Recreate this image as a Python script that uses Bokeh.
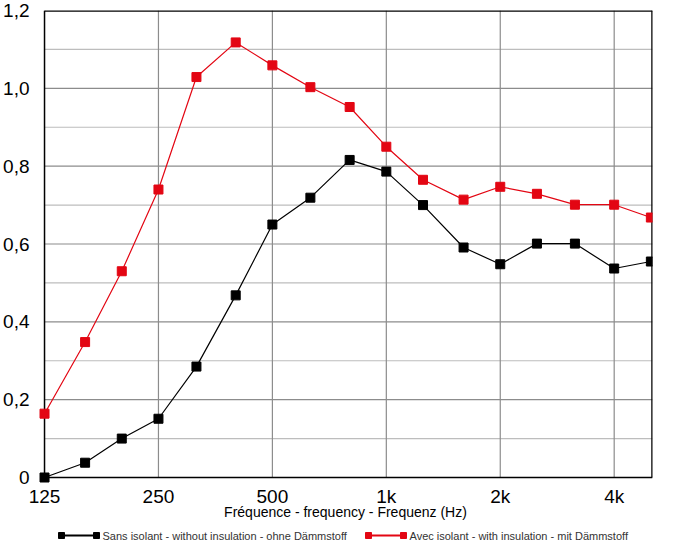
from bokeh.plotting import figure
from bokeh.layouts import column
from bokeh.models import FixedTicker, ColumnDataSource
from bokeh.core.properties import value
from bokeh.embed import file_html
from bokeh.resources import INLINE

# ---- data ----
freqs = [125, 160, 200, 250, 315, 400, 500, 630, 800, 1000, 1250, 1600, 2000, 2500, 3150, 4000, 5000]
without_insulation = [0.0, 0.038, 0.10, 0.151, 0.285, 0.468, 0.65, 0.719, 0.816, 0.786, 0.70, 0.591, 0.548,
                      0.601, 0.601, 0.537, 0.555]
with_insulation = [0.164, 0.348, 0.53, 0.74, 1.029, 1.118, 1.059, 1.003, 0.952, 0.85, 0.765, 0.714, 0.747,
                   0.729, 0.701, 0.701, 0.668]
x_ticks = [125, 250, 500, 1000, 2000, 4000]
x_tick_labels = ["125", "250", "500", "1k", "2k", "4k"]
y_ticks = [0, 0.2, 0.4, 0.6, 0.8, 1.0, 1.2]
y_tick_labels = ["0", "0,2", "0,4", "0,6", "0,8", "1,0", "1,2"]
y_minor = [0.1, 0.3, 0.5, 0.7, 0.9, 1.1]
x_label = "Fréquence - frequency - Frequenz (Hz)"
series_names = ["Sans isolant - without insulation - ohne Dämmstoff",
                "Avec isolant - with insulation - mit Dämmstoff"]

# ---- layout constants ----
X_MIN, X_MAX = 125, 5050
Y_MIN, Y_MAX = 0.0, 1.2
X_PAD = 120.5      # frame extends a little left of 125 so markers are not clipped
Y_PAD = -0.0154
FONT = "Liberation Sans"
RED = "#e30613"
FRAME_L, FRAME_R = 38, 652

p = figure(width=689, height=530, x_axis_type="log",
           x_range=(X_PAD, X_MAX), y_range=(Y_PAD, Y_MAX),
           output_backend="svg", toolbar_location=None,
           min_border_left=FRAME_L, min_border_right=689 - FRAME_R, min_border_top=10, min_border_bottom=47)
p.outline_line_color = None
p.background_fill_color = "white"
p.border_fill_color = "white"
p.xgrid.visible = False
p.ygrid.visible = False

# x axis (labels only; lines drawn as frame segments)
ax = p.xaxis[0]
ax.ticker = FixedTicker(ticks=x_ticks)
ax.major_label_overrides = {t: l for t, l in zip(x_ticks, x_tick_labels)}
ax.axis_line_color = None
ax.major_tick_line_color = None
ax.minor_tick_line_color = None
ax.major_tick_out = 0
ax.major_tick_in = 0
ax.minor_tick_out = 0
ax.major_label_standoff = 2
ax.major_label_text_font = FONT
ax.major_label_text_font_size = "19px"
ax.major_label_text_color = "black"
ax.axis_label = x_label
ax.axis_label_text_font = FONT
ax.axis_label_text_font_size = "14px"
ax.axis_label_text_font_style = "normal"
ax.axis_label_text_color = "black"
ax.axis_label_standoff = -6

# y axis (labels only)
ay = p.yaxis[0]
ay.ticker = FixedTicker(ticks=y_ticks)
ay.major_label_overrides = {t: l for t, l in zip(y_ticks, y_tick_labels)}
ay.axis_line_color = None
ay.major_tick_line_color = None
ay.minor_tick_line_color = None
ay.major_tick_out = 0
ay.major_tick_in = 0
ay.minor_tick_out = 0
ay.major_label_standoff = 9
ay.major_label_text_font = FONT
ay.major_label_text_font_size = "19px"
ay.major_label_text_color = "black"

# grid lines
p.segment(x0=[X_MIN] * len(y_minor), x1=[X_MAX] * len(y_minor), y0=y_minor, y1=y_minor,
          line_color="#bdbdbd", line_width=1.2)
p.segment(x0=[X_MIN] * (len(y_ticks) - 2), x1=[X_MAX] * (len(y_ticks) - 2),
          y0=y_ticks[1:-1], y1=y_ticks[1:-1], line_color="#8c8c8c", line_width=1.2)
p.segment(x0=x_ticks[1:], x1=x_ticks[1:], y0=[Y_MIN] * (len(x_ticks) - 1), y1=[Y_MAX] * (len(x_ticks) - 1),
          line_color="#8c8c8c", line_width=1.2)

# frame border
p.segment(x0=[X_MIN, X_MIN, X_MIN, X_MAX], x1=[X_MIN, X_MAX, X_MAX, X_MAX],
          y0=[Y_MIN, Y_MIN, Y_MAX, Y_MIN], y1=[Y_MAX, Y_MIN, Y_MAX, Y_MAX],
          line_color="black", line_width=[1.5, 1.5, 2.5, 2.5])

# series
src = ColumnDataSource(dict(f=freqs, a=without_insulation, b=with_insulation))
p.line("f", "a", source=src, line_color="black", line_width=1.2)
p.scatter("f", "a", source=src, marker="square", size=9, fill_color="black", line_color="black")
p.line("f", "b", source=src, line_color=RED, line_width=1.2)
p.scatter("f", "b", source=src, marker="square", size=9, fill_color=RED, line_color=RED)

# ---- legend strip (frame aligned with the chart frame; data units = page pixels) ----
lg = figure(width=689, height=24, x_range=(FRAME_L, FRAME_R), y_range=(24, 0),
            output_backend="svg", toolbar_location=None,
            min_border_left=FRAME_L, min_border_right=689 - FRAME_R, min_border_top=0, min_border_bottom=0)
lg.outline_line_color = None
lg.axis.visible = False
lg.grid.visible = False
leg_colors = ["black", RED]
leg_x0 = [61, 368]
leg_len = 35
leg_y = 5
lg.segment(x0=leg_x0, x1=[x + leg_len for x in leg_x0], y0=[leg_y] * 2, y1=[leg_y] * 2,
           line_color=leg_colors, line_width=2.2)
lg.scatter(x=leg_x0 + [x + leg_len for x in leg_x0], y=[leg_y] * 4, marker="square", size=6,
           fill_color=leg_colors * 2, line_color=leg_colors * 2)
lg.text(x=[x + leg_len + 6 for x in leg_x0], y=[leg_y] * 2, text=series_names,
        text_font=value(FONT), text_font_size="11px", text_color="#333333",
        text_baseline="middle", text_align="left")

layout = column(p, lg, spacing=0)
open("out.html", "w").write(file_html(layout, INLINE))
